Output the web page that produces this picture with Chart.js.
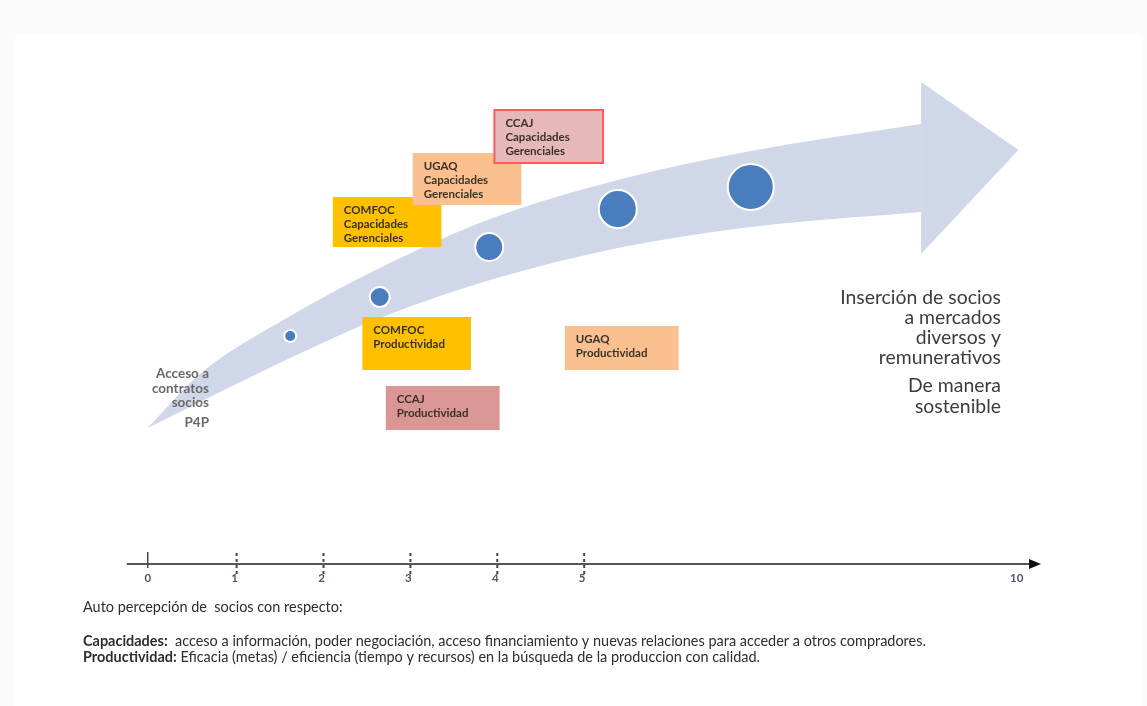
<!DOCTYPE html>
<html lang="es">
<head>
<meta charset="utf-8">
<script src="https://cdn.jsdelivr.net/npm/chart.js@4/dist/chart.umd.min.js"></script>
<style>
  html, body { margin: 0; padding: 0; background: #fbfbfb; }
  canvas { display: block; }
</style>
</head>
<body>
<canvas id="grafico" width="1147" height="706"></canvas>
<script>
// escala de autopercepcion
const marcasEje = [0, 1, 2, 3, 4, 5, 10];

// flecha de avance (cuerpo y punta)
const avanceX = [0, 0.6, 1.64, 2.67, 3.94, 5.41, 6.94, 8.9];
const bordeSuperior = [2.72, 3.80, 4.96, 5.92, 6.90, 7.68, 8.26, 8.80];
const bordeInferior = [2.72, 3.24, 4.12, 4.92, 5.68, 6.32, 6.74, 7.04];
const puntaX = [8.9, 10.02];
const puntaSuperior = [9.64, 8.28];
const puntaInferior = [6.20, 8.28];

// hitos sobre la flecha
const hitosX = [1.64, 2.67, 3.93, 5.41, 6.94];
const hitosY = [4.56, 5.34, 6.34, 7.10, 7.54];
const hitosR = [6, 10, 14, 19, 23];

// organizaciones y dimensiones
const organizaciones = ['COMFOC', 'UGAQ', 'CCAJ'];
const dimCapacidades = ['Capacidades', 'Gerenciales'];
const dimProductividad = ['Productividad'];

const textoMeta = ['Inserción de socios', 'a mercados', 'diversos y', 'remunerativos'];
const textoMeta2 = ['De manera', 'sostenible'];
const textoInicio = ['Acceso a', 'contratos', 'socios', 'P4P'];

const pares = (xs, ys) => xs.map((x, i) => ({ x: x, y: ys[i] }));

// cajas de cada organizacion (en unidades del grafico)
const cajas = [
  { org: 0, lineas: dimCapacidades, x: [2.13, 3.38], y: [6.34, 7.34], fondo: '#ffc000' },
  { org: 1, lineas: dimCapacidades, x: [3.05, 4.30], y: [7.18, 8.22], fondo: '#fac090' },
  { org: 2, lineas: dimCapacidades, x: [3.99, 5.24], y: [8.02, 9.08], fondo: '#e6b9b8', borde: '#ff5b5b' },
  { org: 0, lineas: dimProductividad, x: [2.47, 3.72], y: [3.88, 4.94], fondo: '#ffc000' },
  { org: 1, lineas: dimProductividad, x: [4.80, 6.11], y: [3.88, 4.76], fondo: '#fac090' },
  { org: 2, lineas: dimProductividad, x: [2.74, 4.05], y: [2.68, 3.56], fondo: '#d99694' }
];

const FUENTE = 'Lato, "Open Sans", sans-serif';
const AZUL_FLECHA = '#cfd7e8';

// tamaño de letra para que un texto ocupe un ancho dado
function ajustar(ctx, texto, peso, ancho) {
  ctx.font = peso + ' 20px ' + FUENTE;
  return 20 * ancho / ctx.measureText(texto).width;
}

const fondo = {
  id: 'fondo',
  beforeDraw(chart) {
    const ctx = chart.ctx;
    ctx.save();
    ctx.fillStyle = '#fbfbfb';
    ctx.fillRect(0, 0, chart.width, chart.height);
    ctx.fillStyle = '#ffffff';
    ctx.fillRect(15, 35, chart.width - 19, chart.height - 35);
    ctx.restore();
  }
};

const cajasPlugin = {
  id: 'cajas',
  afterDatasetsDraw(chart) {
    const { ctx, scales: { x, y } } = chart;
    ctx.save();
    cajas.forEach(c => {
      const left = x.getPixelForValue(c.x[0]);
      const right = x.getPixelForValue(c.x[1]);
      const top = y.getPixelForValue(c.y[1]);
      const bottom = y.getPixelForValue(c.y[0]);
      ctx.fillStyle = c.fondo;
      ctx.fillRect(left, top, right - left, bottom - top);
      if (c.borde) {
        ctx.strokeStyle = c.borde;
        ctx.lineWidth = 2;
        ctx.strokeRect(left, top, right - left, bottom - top);
      }
      ctx.fillStyle = '#3a3226';
      ctx.font = 'bold 11.5px ' + FUENTE;
      ctx.textAlign = 'left';
      ctx.textBaseline = 'middle';
      const lineas = [organizaciones[c.org]].concat(c.lineas);
      lineas.forEach((t, i) => ctx.fillText(t, left + 11, top + 13 + i * 14));
    });
    ctx.restore();
  }
};

const ejePlugin = {
  id: 'eje',
  afterDraw(chart) {
    const { ctx, scales: { x, y } } = chart;
    const y0 = y.getPixelForValue(0);
    const x0 = x.getPixelForValue(-0.24);
    const x1 = x.getPixelForValue(10.28);
    ctx.save();
    ctx.strokeStyle = '#555';
    ctx.lineWidth = 2;
    ctx.beginPath();
    ctx.moveTo(x0, y0);
    ctx.lineTo(x1 - 8, y0);
    ctx.stroke();
    ctx.fillStyle = '#111';
    ctx.beginPath();
    ctx.moveTo(x1, y0);
    ctx.lineTo(x1 - 12, y0 - 5);
    ctx.lineTo(x1 - 12, y0 + 5);
    ctx.closePath();
    ctx.fill();

    marcasEje.forEach(v => {
      const px = x.getPixelForValue(v);
      ctx.strokeStyle = '#444';
      if (v === 0) {
        ctx.setLineDash([]);
        ctx.lineWidth = 1.5;
        ctx.beginPath();
        ctx.moveTo(px, y0 - 12);
        ctx.lineTo(px, y0 + 4);
        ctx.stroke();
      } else if (v <= 5) {
        ctx.setLineDash([3, 3]);
        ctx.lineWidth = 2;
        ctx.beginPath();
        ctx.moveTo(px + 2, y0 - 11);
        ctx.lineTo(px + 2, y0 + 11);
        ctx.stroke();
      }
      ctx.setLineDash([]);
      ctx.fillStyle = '#5b4f73';
      ctx.font = 'bold 11.5px ' + FUENTE;
      ctx.textAlign = 'center';
      ctx.textBaseline = 'middle';
      ctx.fillText(String(v), px, y0 + 14);
    });

    // textos laterales
    ctx.fillStyle = '#3d3d3d';
    const tMeta = ajustar(ctx, textoMeta[0], 'normal', 161);
    ctx.font = tMeta + 'px ' + FUENTE;
    ctx.textAlign = 'right';
    textoMeta.forEach((t, i) => ctx.fillText(t, 1001, 298 + i * 20));
    textoMeta2.forEach((t, i) => ctx.fillText(t, 1001, 386 + i * 21));

    ctx.fillStyle = '#6a6a6a';
    const tInicio = ajustar(ctx, textoInicio[0], 'bold', 53);
    ctx.font = 'bold ' + tInicio + 'px ' + FUENTE;
    textoInicio.forEach((t, i) => ctx.fillText(t, 209, 374 + i * 14.5 + (i === 3 ? 5 : 0)));

    // nota inferior
    const linea1 = ['Capacidades:', '  acceso a información, poder negociación, acceso financiamiento y nuevas relaciones para acceder a otros compradores.'];
    const linea2 = ['Productividad:', ' Eficacia (metas) / eficiencia (tiempo y recursos) en la búsqueda de la produccion con calidad.'];
    const tNota = ajustar(ctx, linea1[1], 'normal', 843 - 84);
    ctx.textAlign = 'left';
    ctx.fillStyle = '#2e2e2e';
    ctx.font = tNota + 'px ' + FUENTE;
    ctx.fillText('Auto percepción de  socios con respecto:', 83, 607);
    const nota = (partes, yy) => {
      ctx.font = 'bold ' + tNota + 'px ' + FUENTE;
      ctx.fillText(partes[0], 83, yy);
      const w = ctx.measureText(partes[0]).width;
      ctx.font = tNota + 'px ' + FUENTE;
      ctx.fillText(partes[1], 83 + w, yy);
    };
    nota(linea1, 641);
    nota(linea2, 657);
    ctx.restore();
  }
};

new Chart(document.getElementById('grafico'), {
  type: 'scatter',
  data: {
    datasets: [
      {
        type: 'bubble',
        data: hitosX.map((x, i) => ({ x: x, y: hitosY[i], r: hitosR[i] })),
        backgroundColor: '#4a7dbd',
        borderColor: '#ffffff',
        borderWidth: 2
      },
      {
        data: pares(avanceX, bordeSuperior),
        showLine: true,
        cubicInterpolationMode: 'monotone',
        borderWidth: 0,
        pointRadius: 0,
        backgroundColor: AZUL_FLECHA,
        fill: '+1'
      },
      {
        data: pares(avanceX, bordeInferior),
        showLine: true,
        cubicInterpolationMode: 'monotone',
        borderWidth: 0,
        pointRadius: 0,
        fill: false
      },
      {
        data: pares(puntaX, puntaSuperior),
        showLine: true,
        borderWidth: 0,
        pointRadius: 0,
        backgroundColor: AZUL_FLECHA,
        fill: '+1'
      },
      {
        data: pares(puntaX, puntaInferior),
        showLine: true,
        borderWidth: 0,
        pointRadius: 0,
        fill: false
      }
    ]
  },
  options: {
    responsive: false,
    animation: false,
    layout: { padding: 0, autoPadding: false },
    scales: {
      x: { type: 'linear', min: -1.7, max: 11.5, display: false },
      y: { type: 'linear', min: -2.84, max: 11.28, display: false }
    },
    plugins: {
      legend: { display: false },
      tooltip: { enabled: false }
    }
  },
  plugins: [fondo, cajasPlugin, ejePlugin]
});
</script>
</body>
</html>
